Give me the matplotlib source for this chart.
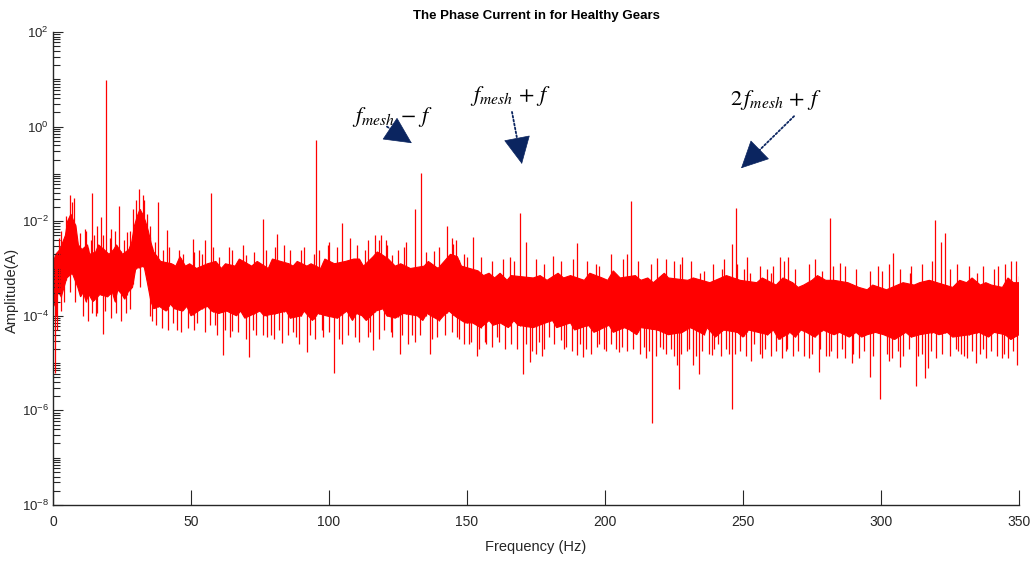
import numpy as np
import matplotlib
matplotlib.use('Agg')
import matplotlib.pyplot as plt
from matplotlib.ticker import LogLocator, NullFormatter, FixedLocator

plt.rcParams['font.family'] = ['Liberation Sans', 'DejaVu Sans']
plt.rcParams['mathtext.fontset'] = 'custom'
plt.rcParams['mathtext.rm'] = 'Liberation Sans'

# upper edge of the dense noise floor (log10 of amplitude in A)
edge_up_freq = [0, 1, 2.5, 3.5, 4.5, 5.3, 6.5, 7.5, 8.3, 9.2, 10.5, 12.5, 13.3, 15.5, 16.5,
                18.5, 20.3, 22, 23, 25.2, 27.5, 28.5, 29.5, 30.5, 31.5, 32.5, 33.5, 34.5,
                35.5, 36.5, 39,
                43, 44.5, 46, 48, 49.5, 52, 56, 59, 61, 62.5, 66, 67.5, 72, 74, 78, 79.5,
                82.5, 85.5, 87, 88.5, 92, 93.5, 97, 98.5, 102, 106, 109, 111, 112.5, 116,
                117.5, 119, 121.5, 124, 126, 129.5, 134.5, 136, 139.5, 141, 144, 146.5, 148,
                154, 156, 158, 160, 162, 164.5, 166, 174, 176.5, 179, 183, 185, 187.5,
                192.5, 194.5, 199, 201, 203, 205.5, 211, 213, 215.5, 217.5, 221.5, 223,
                230, 232, 238, 240, 244, 249, 255, 257, 262, 264.5, 268, 270, 272, 275,
                277, 280, 283, 288, 290, 292, 295, 297, 302, 306, 308, 312, 314, 317.5,
                326, 328.5, 331, 333, 336, 338, 340, 344, 346, 348, 350]
edge_up_log = [-2.9, -2.7, -2.6, -2.45, -2.3, -2.0, -1.85, -2.0, -2.1, -2.5, -2.6, -2.5, -2.7,
               -2.65, -2.5, -2.6, -2.7, -2.6, -2.5, -2.7, -2.6, -2.45, -2.1, -1.9, -1.75,
               -1.85, -2.0, -2.2, -2.45, -2.65, -2.85,
               -2.9, -2.95, -2.75, -2.95, -2.9, -3.0, -2.9, -2.85, -3.0, -2.9, -2.95, -2.8,
               -2.95, -2.85, -3.0, -2.8, -2.85, -2.9, -2.95, -2.85, -2.95, -2.9, -3.0, -2.8,
               -2.9, -2.85, -2.8, -2.8, -2.95, -2.75, -2.65, -2.7, -2.8, -2.95, -2.9, -3.0,
               -2.95, -2.85, -3.0, -2.9, -2.7, -2.75, -2.95,
               -3.05, -3.15, -3.1, -3.2, -3.1, -3.25, -3.15, -3.2, -3.15, -3.25, -3.1, -3.2,
               -3.15, -3.25, -3.1, -3.2, -3.25, -3.05, -3.2, -3.15, -3.25, -3.2, -3.3, -3.1,
               -3.2, -3.25, -3.2, -3.3, -3.25, -3.15, -3.25, -3.3, -3.2, -3.35, -3.2, -3.3,
               -3.4, -3.35, -3.25, -3.15, -3.25, -3.25, -3.3, -3.35, -3.4, -3.45, -3.35,
               -3.45, -3.35, -3.3, -3.35, -3.3, -3.25, -3.4, -3.25, -3.3, -3.2, -3.35, -3.3,
               -3.35, -3.4, -3.2, -3.3, -3.3]

# lower edge of the dense noise floor
edge_dn_freq = [0, 0.3, 2, 3, 5, 7, 9, 10, 11, 12, 13, 14.5, 17, 19.8, 21.5, 22.5, 23.5, 25,
                26, 27.2, 28.8, 30, 33, 34.2, 35.5, 36.5, 38.5,
                41, 42.5, 44, 47, 48.5, 50, 54, 56, 57.5, 60, 63, 66.5, 68, 69.5, 75, 76.5,
                81, 84.5, 86, 90, 91, 94, 96, 99, 103, 106.5, 108.5, 110, 112, 113.5, 117,
                119.5, 121, 124, 127, 132, 134, 135.5, 138.5, 140, 141.5, 143.5, 145.5,
                148, 149.5,
                152, 155, 158, 159.5, 162, 165, 167, 168.5, 174, 178.5, 181, 182.5, 187.5,
                189, 194, 196, 201.5, 203, 207, 209, 211.5, 213, 219, 223, 228, 231, 236,
                237, 240, 243, 248, 250, 252, 255.5, 259, 261, 263, 267, 269, 271, 273,
                276, 279, 283, 285, 288.5, 291, 293, 295, 298, 301, 305, 309, 311, 314,
                319, 321, 324, 326, 332, 335.5, 339, 341, 345, 347, 350]
edge_dn_log = [-3.7, -3.8, -3.5, -3.6, -3.2, -3.1, -3.4, -3.6, -3.5, -3.7, -3.55, -3.7,
               -3.55, -3.6, -3.5, -3.7, -3.45, -3.55, -3.65, -3.5, -3.4, -3.0, -2.95, -3.3,
               -3.7, -3.85, -3.8,
               -3.9, -3.75, -3.85, -3.9, -3.8, -4.0, -3.85, -3.8, -3.9, -3.95, -3.9, -4.0,
               -3.9, -4.05, -3.9, -4.0, -3.95, -3.9, -4.05, -4.0, -3.9, -4.1, -3.95, -4.0,
               -4.05, -3.9, -4.1, -3.95, -4.0, -4.1, -3.9, -3.85, -4.0, -4.05, -3.95, -4.0,
               -4.1, -3.95, -4.05, -4.1, -4.0, -3.9, -4.0, -4.1, -4.15,
               -4.15, -4.25, -4.1, -4.2, -4.15, -4.25, -4.1, -4.2, -4.25, -4.15, -4.1,
               -4.25, -4.15, -4.3, -4.2, -4.35, -4.2, -4.35, -4.25, -4.3, -4.4, -4.25,
               -4.3, -4.4, -4.35, -4.25, -4.4, -4.25, -4.45, -4.3, -4.35, -4.45, -4.3,
               -4.35, -4.4, -4.3, -4.5, -4.35, -4.45, -4.3, -4.35, -4.45, -4.3, -4.4,
               -4.35, -4.45, -4.35, -4.45, -4.4, -4.35, -4.4, -4.5, -4.35, -4.45, -4.4,
               -4.35, -4.4, -4.35, -4.45, -4.4, -4.35, -4.45, -4.35, -4.4, -4.5, -4.4]

# spectral lines rising out of the floor
peak_freq = [19.2, 95.3, 133.3, 169.2, 209.4, 247.5, 281.5, 319.6, 323.2, 321.7,
             6.2, 7.5, 14.1, 24, 17.4, 11.6, 21, 26.8, 31, 32.5, 38, 41.3, 50.7, 55, 57.2, 53,
             63.8, 70, 76, 81, 83.7, 90, 100, 104.7, 107.6, 114, 119, 120.6, 123, 128, 131,
             138, 142.7, 145, 150, 152, 167, 171.4, 181, 190, 196.7, 208, 219, 225, 228,
             234.4, 236, 242.4, 246, 250.4, 252.5, 258.7, 260, 263.4, 266.3, 278.6, 285,
             300.4, 304.3, 310.5, 334.8, 342.4, 350,
             2, 3, 4.8, 6.8, 9.8, 12, 13.8, 15, 16, 18, 20.8, 22.5, 25.8, 28, 29, 30, 33, 34,
             35, 37, 40, 42, 45.5, 47.2, 51, 54, 58, 60, 65, 68.7, 73, 77, 80.5, 86, 91, 94.5,
             96.5, 99.5, 103, 110, 113, 116.8, 118.2, 121, 125, 127, 135, 140, 144.5, 146,
             149, 155, 159, 163, 165.5, 175, 178, 184, 188.5, 193.5, 198, 202, 206.5, 212,
             216.5, 222, 227, 231, 239, 243, 248, 251.5, 256, 261, 265, 269, 274, 276, 282.5,
             287, 291, 296, 299, 303, 307, 311, 315, 318.5, 325, 327.5, 332, 337, 341, 345,
             347, 349]
peak_log = [0.98, -0.28, -0.98, -1.82, -1.57, -1.72, -1.93, -1.97, -2.24, -2.43,
            -1.45, -1.5, -1.4, -1.68, -1.91, -2.17, -2.17, -2.23, -1.32, -1.45, -1.6, -2.19,
            -2.38, -2.4, -1.41, -2.6, -2.55, -2.72, -1.96, -2.27, -2.5, -2.6, -2.44, -2.04,
            -2.36, -2.4, -2.3, -2.4, -2.72, -2.45, -1.74, -2.63, -2.1, -2.48, -2.75, -2.33,
            -2.85, -2.44, -2.74, -2.46, -2.9, -2.7, -2.78, -2.85, -2.75, -3.1, -3.05, -3.0,
            -2.48, -3.01, -3.1, -3.0, -3.1, -2.76, -2.76, -3.05, -2.88, -3.05, -2.67, -3.1,
            -3.1, -2.95, -3.15,
            -2.35, -2.2, -1.9, -1.6, -2.25, -2.2, -2.4, -2.3, -2.1, -2.3, -2.35, -2.2, -2.4,
            -2.2, -1.75, -1.55, -1.55, -1.85, -2.1, -2.45, -2.6, -2.55, -2.6, -2.7, -2.65,
            -2.7, -2.55, -2.75, -2.6, -2.5, -2.65, -2.6, -2.55, -2.6, -2.55, -2.7, -2.6,
            -2.5, -2.55, -2.5, -2.6, -2.3, -2.4, -2.5, -2.6, -2.55, -2.65, -2.55, -2.35,
            -2.4, -2.7, -2.75, -2.85, -2.8, -2.75, -2.8, -2.9, -2.85, -2.8, -2.85, -2.95,
            -2.7, -2.8, -2.85, -2.9, -2.8, -2.9, -2.85, -2.9, -2.8, -2.9, -2.75, -2.95,
            -2.95, -2.85, -3.0, -2.9, -2.8, -2.95, -2.95, -3.0, -3.05, -2.95, -2.9, -3.0,
            -2.95, -2.9, -2.85, -3.0, -2.9, -2.95, -2.95, -3.0, -2.9, -2.85, -2.85]

# notches below the floor
dip_freq = [0.7, 1.5, 16, 18, 37.3, 39.5, 45, 52, 58.7, 61.6, 65, 71, 73.5, 77.5, 79, 83,
            88, 92, 97.5, 101.8, 104.7, 115, 116, 118, 122.5, 125.7, 128.6, 130, 136.6,
            146.4, 150.7, 153.6, 156.5, 160.9, 163.8, 170.3, 172.8, 175, 177, 179.7, 184,
            186, 190, 192, 198, 199.6, 205, 215, 217, 221, 225, 226, 226.8, 229.7, 232,
            234, 238.8, 241, 245, 246, 253, 254, 257, 265.6, 274, 277.5, 281, 287, 289.5,
            296, 299.6, 303, 307, 312.7, 315, 316, 317, 328, 330, 334.4, 337, 343.8, 349.3,
            1.2, 2.8, 4, 6, 8, 10.8, 12.8, 14, 15.5, 19, 21, 23, 24.5, 26.5, 28, 31.5, 35,
            36, 41.8, 43.3, 46.2, 49, 51, 55, 57, 59.5, 62.4, 64, 67, 70, 72.5, 76, 80, 82,
            85, 87, 89, 93, 95, 98, 100, 103.5, 107, 109.5, 111, 114, 120, 123, 126.5, 131,
            133, 137.5, 139, 142, 144.5, 147, 149, 151.5, 154.5, 157, 159, 161.5, 166, 168,
            171.5, 173.5, 176, 178, 181.5, 185, 188, 191, 193, 195, 197, 200.5, 202, 204,
            206, 208, 210, 212.5, 214, 216, 218.5, 220, 222, 224, 227.5, 230.5, 233, 235,
            237.5, 239.5, 242, 244, 247, 249, 251, 256, 258, 260, 262, 264, 266, 268, 270,
            272, 275, 278, 280, 282, 284, 286, 290, 292, 294, 297, 302, 304, 306, 308, 310,
            313.5, 318, 320, 322, 325, 327, 329, 331, 333, 336, 338, 340, 342, 344.5, 346,
            348]
dip_log = [-5.2, -4.3, -3.95, -4.39, -4.2, -4.25, -4.3, -4.15, -4.2, -4.83, -4.32, -4.87,
           -4.4, -4.45, -4.4, -4.58, -4.45, -4.77, -4.3, -5.2, -4.6, -4.35, -4.72, -4.5,
           -4.35, -4.81, -4.6, -4.4, -4.81, -4.45, -4.6, -4.85, -4.55, -4.45, -4.7, -5.23,
           -4.98, -4.8, -4.85, -4.45, -4.51, -4.65, -4.83, -4.88, -4.6, -4.7, -4.77, -4.9,
           -6.27, -4.7, -4.85, -5.04, -5.55, -4.75, -5.05, -5.23, -4.83, -4.6, -4.8, -5.97,
           -4.96, -4.6, -4.9, -4.75, -4.9, -5.18, -4.85, -4.9, -5.0, -5.29, -5.76, -4.95,
           -5.08, -5.49, -4.8, -5.31, -5.1, -4.75, -4.85, -5.0, -4.7, -4.9, -5.05,
           -4.0, -3.9, -3.7, -3.5, -3.7, -4.0, -4.1, -3.95, -4.0, -3.9, -4.05, -3.95, -4.1,
           -3.95, -3.85, -3.4, -4.0, -4.1, -4.3, -4.15, -4.35, -4.25, -4.3, -4.35, -4.2,
           -4.4, -4.3, -4.45, -4.35, -4.5, -4.3, -4.4, -4.5, -4.3, -4.4, -4.35, -4.6, -4.4,
           -4.5, -4.45, -4.35, -4.5, -4.4, -4.45, -4.55, -4.45, -4.3, -4.45, -4.4, -4.55,
           -4.4, -4.5, -4.45, -4.4, -4.35, -4.5, -4.6, -4.55, -4.7, -4.6, -4.65, -4.55,
           -4.6, -4.7, -4.6, -4.75, -4.55, -4.7, -4.6, -4.7, -4.75, -4.6, -4.7, -4.8,
           -4.65, -4.75, -4.6, -4.7, -4.65, -4.75, -4.7, -4.8, -4.65, -4.75, -4.85, -4.65,
           -4.8, -4.7, -4.8, -4.7, -4.85, -4.75, -4.8, -4.7, -4.85, -4.7, -4.8, -4.75,
           -4.85, -4.8, -4.7, -4.85, -4.75, -4.9, -4.7, -4.85, -4.75, -4.85, -4.8, -4.7,
           -4.85, -4.75, -4.9, -4.7, -4.8, -4.9, -4.75, -4.85, -4.8, -4.9, -4.75, -4.85,
           -4.7, -4.85, -4.75, -4.9, -4.8, -4.85, -4.7, -4.8, -4.9, -4.75, -4.8, -4.9,
           -4.75, -4.85, -4.8, -4.9, -4.75]

xticks = [0, 50, 100, 150, 200, 250, 300, 350]

fig = plt.figure(figsize=(10.33, 5.68), dpi=100)
ax = fig.add_axes([53 / 1033, 1 - 505 / 568, 966 / 1033, 473 / 568])

red = '#ff0000'
uf = np.array(edge_up_freq, dtype=float)
ul = np.array(edge_up_log)
lf = np.array(edge_dn_freq, dtype=float)
ll = np.array(edge_dn_log)

# floor as one polygon: along the upper edge, back along the lower edge
ax.fill(np.r_[uf, lf[::-1]], 10 ** np.r_[ul, ll[::-1]], color=red, lw=0.8, ec=red)

pf = np.array(peak_freq, dtype=float)
ax.vlines(pf, 10 ** np.interp(pf, lf, ll), 10 ** np.array(peak_log), color=red, lw=0.9)
df = np.array(dip_freq, dtype=float)
ax.vlines(df, 10 ** np.array(dip_log), 10 ** np.interp(df, uf, ul), color=red, lw=0.9)

ax.set_yscale('log')
ax.set_xlim(0, 350)
ax.set_ylim(1e-8, 1e2)
ax.xaxis.set_major_locator(FixedLocator(xticks))
ax.yaxis.set_major_locator(FixedLocator([1e-8, 1e-6, 1e-4, 1e-2, 1e0, 1e2]))
ax.yaxis.set_minor_locator(LogLocator(base=10, subs=np.arange(1, 10), numticks=40))
ax.yaxis.set_minor_formatter(NullFormatter())

for side in ['top', 'right']:
    ax.spines[side].set_visible(False)
for side in ['left', 'bottom']:
    ax.spines[side].set_linewidth(1.0)
    ax.spines[side].set_color('#262626')

ax.tick_params(axis='x', which='major', direction='in', length=10.5, width=0.8,
               colors='#262626', labelsize=10, pad=7)
ax.tick_params(axis='y', which='major', direction='in', length=7, width=0.8,
               colors='#262626', labelsize=9.5, pad=3)
ax.tick_params(axis='y', which='minor', direction='in', length=5, width=0.8, colors='#262626')

ax.set_title('The Phase Current in for Healthy Gears', fontsize=9.5, fontweight='bold', pad=9)
ax.set_xlabel('Frequency (Hz)', fontsize=10.5, color='#262626', labelpad=8)
fig.text(12 / 1033, 1 - 290 / 568, 'Amplitude(A)', rotation=90, ha='center', va='center',
         fontsize=10.5, color='#262626')

# sideband labels with dotted pointers
navy = '#0b2560'
labels = [(r'$f_{mesh}\,-\,f$', 108.3, 0.20),
          (r'$f_{mesh}\,+\,f$', 151.1, 0.65),
          (r'$2\,f_{mesh}\,+\,f$', 245.3, 0.56)]
for txt, x, ylog in labels:
    ax.text(x, 10 ** ylog, txt, fontsize=16, ha='left', va='center', math_fontfamily='stix')

arrows = [((121.0, 0.0), (130.0, -0.35)),
          ((166.3, 0.31), (169.9, -0.79)),
          ((268.5, 0.22), (249.3, -0.88))]
for (x0, y0), (x1, y1) in arrows:
    ax.annotate('', xy=(x1, 10 ** y1), xytext=(x0, 10 ** y0),
                arrowprops=dict(arrowstyle='-', linestyle=(0, (1, 1.2)), lw=1.3, color=navy,
                                shrinkA=0, shrinkB=8))
    # solid head on the last part of the shaft
    xs = x1 - (x1 - x0) * 0.25
    ys = y1 - (y1 - y0) * 0.25
    ax.annotate('', xy=(x1, 10 ** y1), xytext=(xs, 10 ** ys),
                arrowprops=dict(arrowstyle='-|>,head_length=0.65,head_width=0.32', lw=0.5,
                                color=navy, mutation_scale=28, shrinkA=0, shrinkB=0))

fig.savefig('out.png', dpi=100)
